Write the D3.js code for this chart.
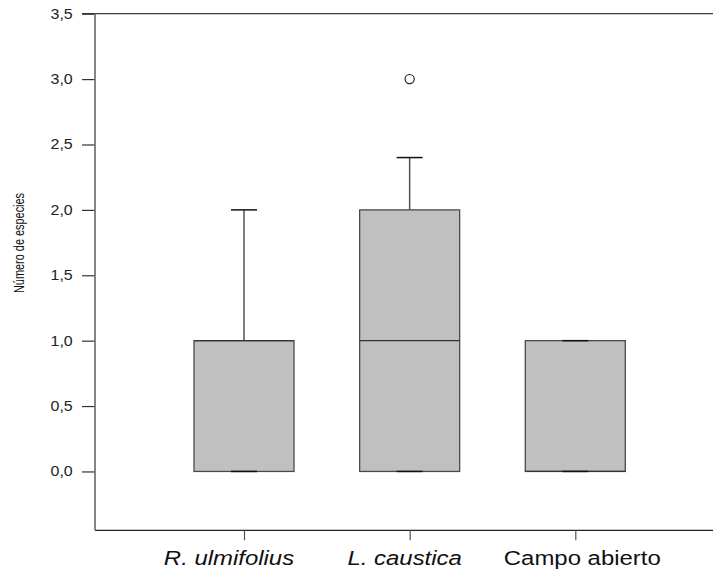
<!DOCTYPE html>
<html>
<head>
<meta charset="utf-8">
<script src="https://cdn.jsdelivr.net/npm/d3@7"></script>
<style>
  html, body { margin: 0; padding: 0; background: #fff; }
  svg { display: block; font-family: "Liberation Sans", Arial, sans-serif; }
</style>
</head>
<body>
<svg id="chart" width="713" height="573"></svg>
<script>
// Box-plot summaries per site
const categories   = ["R. ulmifolius", "L. caustica", "Campo abierto"];
const whiskerLow   = [0, 0, 0];
const q1           = [0, 0, 0];
const median       = [1, 1, 0];
const q3           = [1, 2, 1];
const whiskerHigh  = [2, 2.4, 1];
const outliers     = [[], [3.0], []];
const italicLabel  = [true, true, false];
const yTicks       = [0, 0.5, 1, 1.5, 2, 2.5, 3, 3.5];

const svg = d3.select("#chart");
const W = 713;
const plotLeft = 95, plotTop = 13.7, plotBottom = 530.3;
const stretch = 1.14;           // labels are drawn slightly wide
const fmt = v => d3.format(".1f")(v).replace(".", ",");

const y = d3.scaleLinear().domain([-0.45, 3.5]).range([plotBottom, plotTop]);
const x = d3.scalePoint().domain(categories).range([244, 575.3]);

const boxHalf = 50, capHalf = 13;

const rows = categories.map((c, i) => ({
  c, lo: whiskerLow[i], q1: q1[i], med: median[i], q3: q3[i],
  hi: whiskerHigh[i], out: outliers[i], italic: italicLabel[i]
}));

// frame: top rule and bottom axis line
svg.append("line").attr("x1", 82).attr("x2", W).attr("y1", plotTop).attr("y2", plotTop)
  .attr("stroke", "#3a3a3a").attr("stroke-width", 1.3);
svg.append("line").attr("x1", plotLeft).attr("x2", W).attr("y1", plotBottom).attr("y2", plotBottom)
  .attr("stroke", "#222").attr("stroke-width", 1.2);

// y axis
const yAxis = svg.append("g").attr("transform", `translate(${plotLeft},0)`)
  .call(d3.axisLeft(y).tickValues(yTicks).tickFormat(fmt).tickSize(13).tickPadding(9));
yAxis.select(".domain").remove();
svg.append("line").attr("x1", plotLeft).attr("x2", plotLeft).attr("y1", plotTop).attr("y2", plotBottom)
  .attr("stroke", "#707070").attr("stroke-width", 1.7);
yAxis.selectAll(".tick line").attr("stroke", "#333").attr("stroke-width", 1.2);
yAxis.selectAll(".tick text")
  .attr("font-size", 14).attr("fill", "#222").attr("font-family", "Liberation Sans, Arial, sans-serif")
  .attr("x", -22.3 / stretch).attr("transform", `scale(${stretch},1)`);

// x axis ticks
const xAxis = svg.append("g").attr("transform", `translate(0,${plotBottom})`)
  .call(d3.axisBottom(x).tickSize(10).tickFormat(""));
xAxis.select(".domain").remove();
xAxis.selectAll(".tick line").attr("stroke", "#555").attr("stroke-width", 1.2);

// category labels
const labelShift = [-15, -5, 7];
svg.append("g").selectAll("text").data(rows).join("text")
  .attr("transform", (d, i) => `translate(${x(d.c) + labelShift[i]},565) scale(${stretch},1)`)
  .attr("text-anchor", "middle")
  .attr("font-size", 21)
  .attr("font-style", d => d.italic ? "italic" : "normal")
  .attr("fill", "#111")
  .text(d => d.c);

// y axis title (narrower along its reading direction)
svg.append("text")
  .attr("transform", "translate(24,243) rotate(-90) scale(0.78,1)")
  .attr("text-anchor", "middle")
  .attr("font-size", 14)
  .attr("fill", "#111")
  .text("Número de especies");

// boxes
const g = svg.append("g").selectAll("g").data(rows).join("g");

// whiskers
g.append("line")
  .attr("x1", d => x(d.c)).attr("x2", d => x(d.c))
  .attr("y1", d => y(d.q3)).attr("y2", d => y(d.hi))
  .attr("stroke", "#555").attr("stroke-width", 1.5);
g.append("line")
  .attr("x1", d => x(d.c)).attr("x2", d => x(d.c))
  .attr("y1", d => y(d.q1)).attr("y2", d => y(d.lo))
  .attr("stroke", "#555").attr("stroke-width", 1.5);

g.append("rect")
  .attr("x", d => x(d.c) - boxHalf).attr("width", boxHalf * 2)
  .attr("y", d => y(d.q3)).attr("height", d => y(d.q1) - y(d.q3))
  .attr("fill", "#c0c0c0").attr("stroke", "#4a4a4a").attr("stroke-width", 1.3);

// medians
g.append("line")
  .attr("x1", d => x(d.c) - boxHalf).attr("x2", d => x(d.c) + boxHalf)
  .attr("y1", d => y(d.med)).attr("y2", d => y(d.med))
  .attr("stroke", "#333").attr("stroke-width", 1.3);

// caps
g.append("line")
  .attr("x1", d => x(d.c) - capHalf).attr("x2", d => x(d.c) + capHalf)
  .attr("y1", d => y(d.hi)).attr("y2", d => y(d.hi))
  .attr("stroke", "#111").attr("stroke-width", 1.5);
g.append("line")
  .attr("x1", d => x(d.c) - capHalf).attr("x2", d => x(d.c) + capHalf)
  .attr("y1", d => y(d.lo)).attr("y2", d => y(d.lo))
  .attr("stroke", "#111").attr("stroke-width", 1.5);

// outliers
g.selectAll("circle").data(d => d.out.map(v => ({ c: d.c, v }))).join("circle")
  .attr("cx", d => x(d.c)).attr("cy", d => y(d.v)).attr("r", 4.6)
  .attr("fill", "none").attr("stroke", "#222").attr("stroke-width", 1.2);
</script>
</body>
</html>
